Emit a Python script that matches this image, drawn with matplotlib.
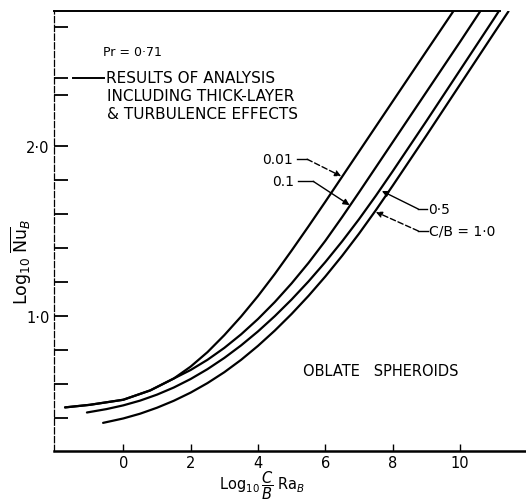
import matplotlib
matplotlib.use("Agg")
import matplotlib.pyplot as plt
from matplotlib.ticker import FixedLocator

# ---- data (log10 (C/B) Ra_B  vs  log10 Nu_B) ----
x_001 = [-1.73, -1.0, 0.0, 0.8, 1.5, 2.0, 2.5, 3.0, 3.5, 4.0, 4.5, 5.0, 5.5,
         6.0, 7.0, 8.0, 9.0, 9.8]
y_001 = [0.46, 0.475, 0.505, 0.56, 0.63, 0.70, 0.785, 0.885, 0.995, 1.115,
         1.245, 1.383, 1.525, 1.67, 1.965, 2.26, 2.555, 2.79]

x_01 = [-1.73, -1.0, 0.0, 0.8, 1.5, 2.0, 2.5, 3.0, 3.5, 4.0, 4.5, 5.0, 5.5,
        6.0, 6.5, 7.0, 8.0, 9.0, 10.0, 10.6]
y_01 = [0.46, 0.475, 0.505, 0.56, 0.63, 0.68, 0.74, 0.81, 0.89, 0.98, 1.08,
        1.19, 1.31, 1.44, 1.58, 1.725, 2.02, 2.315, 2.61, 2.79]

x_05 = [-1.08, -0.5, 0.0, 0.5, 1.0, 1.5, 2.0, 2.5, 3.0, 3.5, 4.0, 4.5, 5.0,
        5.5, 6.0, 6.5, 7.0, 7.5, 8.0, 9.0, 10.0, 11.0, 11.15]
y_05 = [0.43, 0.45, 0.472, 0.50, 0.535, 0.577, 0.627, 0.685, 0.751, 0.825,
        0.907, 0.997, 1.095, 1.201, 1.315, 1.437, 1.567, 1.705, 1.849, 2.144,
        2.444, 2.744, 2.79]

x_10 = [-0.6, 0.0, 0.5, 1.0, 1.5, 2.0, 2.5, 3.0, 3.5, 4.0, 4.5, 5.0, 5.5,
        6.0, 6.5, 7.0, 7.5, 8.0, 9.0, 10.0, 11.0, 11.44]
y_10 = [0.369, 0.395, 0.423, 0.458, 0.499, 0.547, 0.603, 0.667, 0.740, 0.822,
        0.912, 1.010, 1.116, 1.230, 1.352, 1.482, 1.620, 1.764, 2.059, 2.359,
        2.659, 2.79]

x_ticks = [0, 2, 4, 6, 8, 10]
x_tick_labels = ["0", "2", "4", "6", "8", "10"]
y_ticks = [0.4, 0.6, 0.8, 1.0, 1.2, 1.4, 1.6, 1.8, 2.0, 2.3, 2.4, 2.7]
y_tick_labels = ["", "", "", "1·0", "", "", "", "", "2·0", "", "", ""]

W, H = 526, 502
fig = plt.figure(figsize=(W / 100, H / 100), dpi=100)
ax = fig.add_axes([54 / W, 50 / H, 472 / W, 440 / H])

for xs, ys in [(x_001, y_001), (x_01, y_01), (x_05, y_05), (x_10, y_10)]:
    ax.plot(xs, ys, color="black", lw=1.6, solid_capstyle="round",
            solid_joinstyle="round", clip_on=True)

ax.set_xlim(-2.058, 11.96)
ax.set_ylim(0.2035, 2.792)

# spines
ax.spines["right"].set_visible(False)
ax.spines["top"].set_linewidth(1.4)
ax.spines["top"].set_bounds(-2.058, 11.2)
ax.spines["left"].set_linewidth(0.9)
ax.spines["left"].set_linestyle((0, (5, 2)))
ax.spines["bottom"].set_linewidth(1.8)

# ticks
ax.xaxis.set_major_locator(FixedLocator(x_ticks))
ax.set_xticklabels(x_tick_labels)
ax.yaxis.set_major_locator(FixedLocator(y_ticks))
ax.set_yticklabels(y_tick_labels)
ax.tick_params(axis="x", direction="in", length=5, width=1.0, pad=3,
               labelsize=10.5)
ax.tick_params(axis="y", direction="in", length=10, width=1.3, pad=3,
               labelsize=10.5)

# axis labels
fig.text(262 / W, 1 - 486 / H, r"$\mathrm{Log}_{10}\,\dfrac{C}{B}\;\mathrm{Ra}_B$",
         ha="center", va="center", fontsize=10.5)
fig.text(21 / W, 1 - 262 / H, r"$\mathrm{Log}_{10}\;\overline{\mathrm{Nu}}_B$",
         ha="center", va="center", rotation=90, fontsize=12.5)

# legend-like annotation
ax.text(0.104, 0.907, "Pr = 0·71", transform=ax.transAxes, fontsize=9,
        ha="left", va="center")
ax.plot([0.040, 0.106], [0.848, 0.848], transform=ax.transAxes,
        color="black", lw=1.4)
ax.text(0.110, 0.848, "RESULTS OF ANALYSIS", transform=ax.transAxes,
        fontsize=11, ha="left", va="center")
ax.text(0.112, 0.808, "INCLUDING THICK-LAYER", transform=ax.transAxes,
        fontsize=11, ha="left", va="center")
ax.text(0.112, 0.768, "& TURBULENCE EFFECTS", transform=ax.transAxes,
        fontsize=11, ha="left", va="center")

ax.text(0.528, 0.182, "OBLATE   SPHEROIDS", transform=ax.transAxes,
        fontsize=10.5, ha="left", va="center")

# curve labels with leaders
def leader(text, tx, ty, ex0, ex1, tipx, tipy, ha, ls):
    ax.text(tx, ty, text, fontsize=10, ha=ha, va="center")
    ax.plot([ex0, ex1], [ty, ty], color="black", lw=1.0)
    start = ex1 if ha == "right" else ex0
    ax.annotate("", xy=(tipx, tipy), xytext=(start, ty),
                arrowprops=dict(arrowstyle="-|>", color="black", lw=1.0,
                                linestyle=ls, mutation_scale=9,
                                shrinkA=0, shrinkB=0))

leader("0.01", 5.03, 1.92, 5.15, 5.46, 6.47, 1.82, "right", (0, (4, 2)))
leader("0.1", 5.08, 1.79, 5.19, 5.64, 6.72, 1.65, "right", "-")
leader("0·5", 9.05, 1.627, 8.76, 9.02, 7.68, 1.733, "left", "-")
leader("C/B = 1·0", 9.08, 1.498, 8.76, 9.05, 7.50, 1.61, "left", (0, (4, 2)))

fig.savefig("out.png", dpi=100)
